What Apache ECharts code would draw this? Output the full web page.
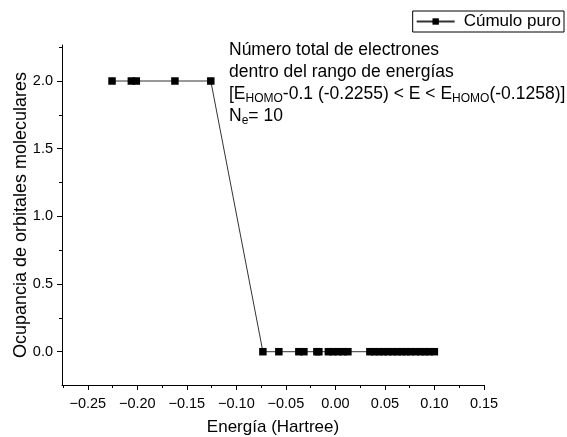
<!DOCTYPE html>
<html>
<head>
<meta charset="utf-8">
<script src="https://cdn.jsdelivr.net/npm/echarts@6/dist/echarts.min.js"></script>
<style>
  html, body { margin: 0; padding: 0; background: #fff; }
  #main { width: 567px; height: 437px; }
</style>
</head>
<body>
<div id="main"></div>
<script>
// energía de cada orbital (Hartree) y su ocupación
const energias = [
  -0.2255, -0.2060, -0.2010, -0.1620, -0.1258,
  -0.0732, -0.0571, -0.0369, -0.0318, -0.0187, -0.0167,
  -0.0071, -0.0025, 0.0025, 0.0076, 0.0126,
  0.0348, 0.0395, 0.0440, 0.0485, 0.0530, 0.0580, 0.0625, 0.0670,
  0.0715, 0.0760, 0.0810, 0.0860, 0.0905, 0.0950, 0.0999
]
const ocupacion = [
  2, 2, 2, 2, 2,
  0, 0, 0, 0, 0, 0,
  0, 0, 0, 0, 0,
  0, 0, 0, 0, 0, 0, 0, 0,
  0, 0, 0, 0, 0, 0, 0
]
const xTicks = [-0.25, -0.20, -0.15, -0.10, -0.05, 0.00, 0.05, 0.10, 0.15]
const xMinor = [-0.275, -0.225, -0.175, -0.125, -0.075, -0.025, 0.025, 0.075, 0.125]
const yTicks = [0.0, 0.5, 1.0, 1.5, 2.0]
const yMinor = [-0.25, 0.25, 0.75, 1.25, 1.75, 2.25]

const font = 'Liberation Sans, Arial, sans-serif'
const chart = echarts.init(document.getElementById('main'))

let puntos = []
for (let i = 0; i < energias.length; i++) {
  puntos.push([energias[i], ocupacion[i]])
}

const option = {
  animation: false,
  textStyle: { fontFamily: font, color: '#000' },
  grid: { left: 62, right: 83, top: 45, bottom: 52, outerBoundsMode: 'none', containLabel: false },
  legend: {
    right: 3,
    top: 11,
    padding: [2, 3, 2, 3],
    borderColor: '#000',
    borderWidth: 1,
    borderRadius: 0,
    itemWidth: 38,
    itemHeight: 8,
    itemGap: 4,
    textStyle: { fontFamily: font, fontSize: 17, color: '#000', padding: [0, 0, 0, 4] },
    data: ['Cúmulo puro']
  },
  xAxis: [{
    type: 'value',
    min: -0.276,
    max: 0.15,
    name: 'Energía (Hartree)',
    nameLocation: 'middle',
    nameGap: 34,
    nameMoveOverlap: false,
    nameTextStyle: { fontFamily: font, fontSize: 17, color: '#000' },
    axisLine: { show: true, onZero: false, lineStyle: { color: '#000', width: 1 } },
    axisTick: { show: true, length: 5, customValues: xTicks, lineStyle: { color: '#000' } },
    axisLabel: {
      customValues: xTicks,
      fontFamily: font, fontSize: 14.5, color: '#000', margin: 11,
      formatter: function (v) { return (v < 0 ? '\u2212' : '') + Math.abs(v).toFixed(2) }
    },
    splitLine: { show: false }
  }, {
    type: 'value',
    min: -0.276,
    max: 0.15,
    position: 'bottom',
    axisLine: { show: false, onZero: false },
    axisTick: { show: true, length: 3, customValues: xMinor, lineStyle: { color: '#000' } },
    axisLabel: { show: false },
    splitLine: { show: false }
  }],
  yAxis: [{
    type: 'value',
    min: -0.246,
    max: 2.266,
    name: 'Ocupancia de orbitales moleculares',
    nameLocation: 'middle',
    nameGap: 32,
    nameMoveOverlap: false,
    nameTextStyle: { fontFamily: font, fontSize: 18, color: '#000' },
    axisLine: { show: true, onZero: false, lineStyle: { color: '#000', width: 1 } },
    axisTick: { show: true, length: 5, customValues: yTicks, lineStyle: { color: '#000' } },
    axisLabel: {
      customValues: yTicks,
      fontFamily: font, fontSize: 14.5, color: '#000', margin: 9,
      formatter: function (v) { return v.toFixed(1) }
    },
    splitLine: { show: false }
  }, {
    type: 'value',
    min: -0.246,
    max: 2.266,
    position: 'left',
    axisLine: { show: false, onZero: false },
    axisTick: { show: true, length: 3, customValues: yMinor, lineStyle: { color: '#000' } },
    axisLabel: { show: false },
    splitLine: { show: false }
  }],
  graphic: [{
    type: 'text',
    left: 229,
    top: 39,
    style: {
      text: 'Número total de electrones\n' +
        'dentro del rango de energías\n' +
        '[E{sub|HOMO}-0.1 (-0.2255) < E < E{sub|HOMO}(-0.1258)]\n' +
        'N{sub|e}= 10',
      font: '17.5px ' + font,
      fill: '#000',
      lineHeight: 22,
      rich: {
        sub: { fontSize: 12, fontFamily: font, lineHeight: 13, verticalAlign: 'bottom', fill: '#000' }
      }
    }
  }],
  series: [{
    name: 'Cúmulo puro',
    type: 'line',
    xAxisIndex: 0,
    yAxisIndex: 0,
    data: puntos,
    symbol: 'rect',
    symbolSize: 7.5,
    showAllSymbol: true,
    itemStyle: { color: '#000' },
    lineStyle: { color: '#333', width: 1 }
  }]
}

chart.setOption(option)
</script>
</body>
</html>
